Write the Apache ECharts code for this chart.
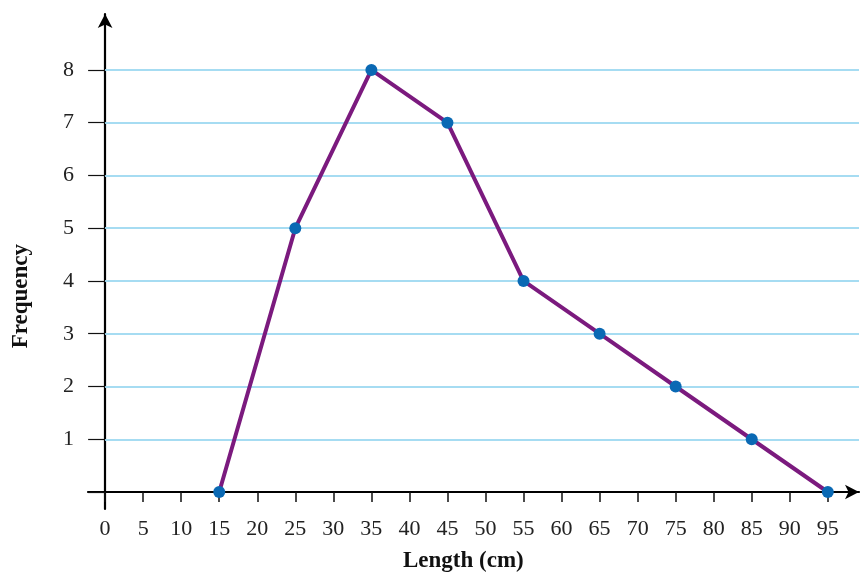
<!DOCTYPE html>
<html>
<head>
<meta charset="utf-8">
<script src="https://cdn.jsdelivr.net/npm/echarts@6/dist/echarts.min.js"></script>
<style>
  html, body { margin: 0; padding: 0; background: #fff; }
  #chart { width: 868px; height: 575px; }
</style>
</head>
<body>
<div id="chart"></div>
<script>
// Frequency polygon of lengths (class midpoints in cm)
const lengths = [15, 25, 35, 45, 55, 65, 75, 85, 95];
const frequencies = [0, 5, 8, 7, 4, 3, 2, 1, 0];

// Tick values shown on each axis
const xTicks = [0, 5, 10, 15, 20, 25, 30, 35, 40, 45, 50, 55, 60, 65, 70, 75, 80, 85, 90, 95];
const yTicks = [0, 1, 2, 3, 4, 5, 6, 7, 8];
const yLabels = [1, 2, 3, 4, 5, 6, 7, 8];
const gridLevels = [1, 2, 3, 4, 5, 6, 7, 8];

// Axis ranges: a little room past zero so the axes cross, and past the end for the arrows
const X_MIN = -2.25, X_MAX = 99.1;
const Y_MIN = -0.322, Y_MAX = 9.06;

const FONT = '"Liberation Serif", "Times New Roman", serif';

const chart = echarts.init(document.getElementById('chart'), null, { renderer: 'canvas' });

const option = {
  backgroundColor: '#ffffff',
  animation: false,
  grid: { left: 88, right: 9, top: 14, bottom: 66, containLabel: false },
  xAxis: {
    type: 'value',
    min: X_MIN,
    max: X_MAX,
    axisLine: {
      show: true,
      onZero: true,
      symbol: ['none', 'arrow'],
      symbolSize: [11, 14],
      lineStyle: { color: '#000', width: 2.2 }
    },
    axisTick: {
      show: true,
      length: 10,
      customValues: xTicks,
      lineStyle: { color: '#111', width: 1.5 }
    },
    axisLabel: {
      show: true,
      customValues: xTicks,
      margin: 9,
      fontFamily: FONT,
      fontSize: 22,
      color: '#222'
    },
    splitLine: { show: false }
  },
  yAxis: {
    type: 'value',
    min: Y_MIN,
    max: Y_MAX,
    axisLine: {
      show: true,
      onZero: true,
      symbol: ['none', 'arrow'],
      symbolSize: [11, 14],
      lineStyle: { color: '#000', width: 2.2 }
    },
    axisTick: {
      show: true,
      length: 17,
      customValues: yTicks,
      lineStyle: { color: '#111', width: 1.2 }
    },
    axisLabel: {
      show: true,
      customValues: yLabels,
      margin: 14,
      fontFamily: FONT,
      fontSize: 22,
      color: '#222'
    },
    splitLine: { show: false }
  },
  graphic: [
    {
      type: 'text',
      left: 403,
      top: 550,
      style: {
        text: 'Length (cm)',
        font: 'bold 23px ' + FONT,
        fill: '#111'
      }
    },
    {
      type: 'text',
      left: 10,
      top: 244,
      rotation: Math.PI / 2,
      style: {
        text: 'Frequency',
        font: 'bold 23px ' + FONT,
        fill: '#111'
      }
    }
  ],
  series: [
    {
      // horizontal reference lines at each frequency level, kept beneath the polygon
      type: 'line',
      data: [],
      z: 1,
      silent: true,
      markLine: {
        z: 1,
        silent: true,
        symbol: ['none', 'none'],
        label: { show: false },
        lineStyle: { type: 'solid', color: '#a6dcf2', width: 2 },
        data: gridLevels.map(v => [{ coord: [0, v] }, { coord: [X_MAX, v] }])
      }
    },
    {
      type: 'line',
      z: 3,
      data: lengths.map((x, i) => [x, frequencies[i]]),
      symbol: 'circle',
      symbolSize: 12,
      lineStyle: { color: '#7b1a7e', width: 4 },
      itemStyle: { color: '#0a69b4', borderWidth: 0 }
    }
  ]
};

chart.setOption(option);
</script>
</body>
</html>
